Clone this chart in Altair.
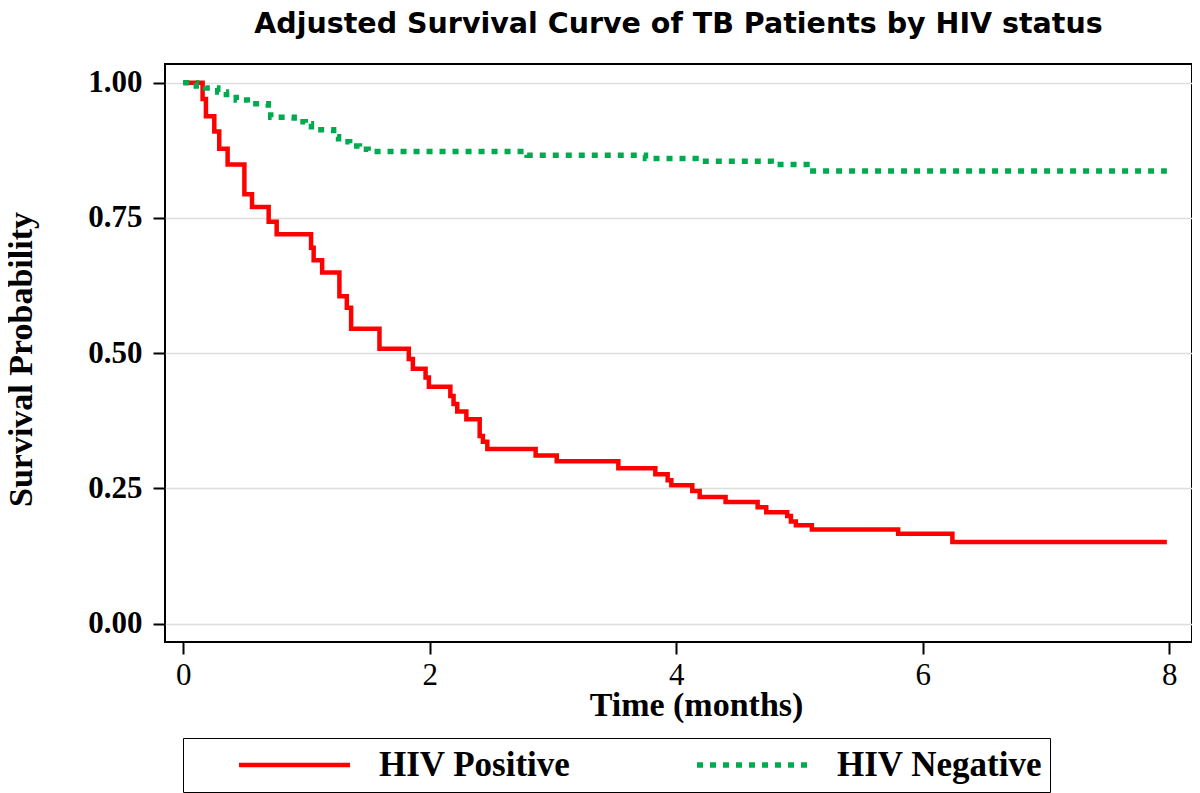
import altair as alt
import pandas as pd

# HIV Positive adjusted survival (step function)
pos_time = [0.0, 0.157, 0.184, 0.252, 0.292, 0.36, 0.496, 0.558, 0.693, 0.758,
            1.037, 1.058, 1.127, 1.267, 1.327, 1.362, 1.592, 1.83, 1.863, 1.966,
            1.993, 2.167, 2.193, 2.223, 2.297, 2.405, 2.431, 2.467, 2.859, 3.03,
            3.53, 3.83, 3.93, 3.96, 4.13, 4.19, 4.40, 4.66, 4.73, 4.90,
            4.93, 4.97, 5.10, 5.80, 6.24, 7.98]
pos_surv = [1.0, 0.97, 0.938, 0.91, 0.878, 0.849, 0.794, 0.770, 0.743, 0.720,
            0.695, 0.672, 0.649, 0.605, 0.584, 0.545, 0.508, 0.489, 0.471, 0.455,
            0.438, 0.421, 0.406, 0.392, 0.378, 0.347, 0.336, 0.323, 0.311, 0.300,
            0.287, 0.276, 0.265, 0.256, 0.245, 0.234, 0.225, 0.215, 0.206, 0.199,
            0.189, 0.182, 0.174, 0.166, 0.151, 0.151]

# HIV Negative adjusted survival (step function)
neg_time = [0.0, 0.106, 0.18, 0.28, 0.35, 0.43, 0.52, 0.69, 0.71, 0.90,
            0.99, 1.04, 1.22, 1.26, 1.35, 1.43, 1.50, 2.79, 3.75, 4.16,
            4.77, 5.06, 7.98]
neg_surv = [1.0, 0.994, 0.99, 0.983, 0.978, 0.968, 0.961, 0.953, 0.936, 0.928,
            0.924, 0.913, 0.900, 0.891, 0.883, 0.877, 0.873, 0.866, 0.860, 0.855,
            0.849, 0.837, 0.837]

groups = ["HIV Positive", "HIV Negative"]
x_ticks = [0, 2, 4, 6, 8]
y_ticks = [0.0, 0.25, 0.5, 0.75, 1.0]

df = pd.concat([
    pd.DataFrame({"time": pos_time, "surv": pos_surv, "group": groups[0]}),
    pd.DataFrame({"time": neg_time, "surv": neg_surv, "group": groups[1]}),
])

serif = "Liberation Serif"


def make_legend():
    return alt.Legend(title=None, orient="none", legendX=18, legendY=674,
                      direction="horizontal", columns=2,
                      symbolType="stroke", symbolSize=12321, clipHeight=40,
                      symbolStrokeWidth=6, symbolOffset=46, labelOffset=26,
                      columnPadding=77, padding=7,
                      strokeColor="black", fillColor="white",
                      labelFont=serif, labelFontSize=35,
                      labelFontWeight="bold", labelColor="black",
                      labelLimit=400)


chart = alt.Chart(df).mark_line(interpolate="step-after").encode(
    x=alt.X("time:Q",
            scale=alt.Scale(domain=[-0.148, 8.184], nice=False, zero=False),
            axis=alt.Axis(values=x_ticks, format="d", title="Time (months)",
                          grid=False, titleX=531, titleY=73,
                          titleAlign="center", titleBaseline="alphabetic",
                          labelPadding=6)),
    y=alt.Y("surv:Q",
            scale=alt.Scale(domain=[-0.034, 1.0346], nice=False, zero=False),
            axis=alt.Axis(values=y_ticks, format=".2f", title="Survival Probability",
                          grid=True, titleX=-144, titleY=295, titleAngle=270,
                          titleAlign="center", titleBaseline="middle",
                          labelFontWeight="bold", labelPadding=11)),
    color=alt.Color("group:N",
                    scale=alt.Scale(domain=groups, range=["#FF0000", "#00AA4F"]),
                    legend=make_legend()),
    strokeDash=alt.StrokeDash("group:N",
                              scale=alt.Scale(domain=groups, range=[[1, 0], [6, 7]]),
                              legend=make_legend()),
    strokeWidth=alt.StrokeWidth("group:N",
                                scale=alt.Scale(domain=groups, range=[4.5, 5.5]),
                                legend=None),
).properties(
    width=1027,
    height=578,
    title=alt.TitleParams("Adjusted Survival Curve of TB Patients by HIV status",
                          font="DejaVu Sans", fontSize=28.5, fontWeight="bold",
                          color="black", anchor="middle", offset=26),
    autosize=alt.AutoSizeParams(type="none"),
    padding={"left": 157, "top": 56, "right": 0, "bottom": 151},
).configure_view(
    stroke="black", strokeWidth=2
).configure_axis(
    domain=False, tickColor="black", tickWidth=2, tickSize=12,
    labelFont=serif, labelFontSize=31, labelColor="black",
    titleFont=serif, titleFontSize=34, titleFontWeight="bold", titleColor="black",
    gridColor="#dddddd", gridWidth=1.5,
)

chart.save("out.html", embed_options={"renderer": "svg", "actions": False})
